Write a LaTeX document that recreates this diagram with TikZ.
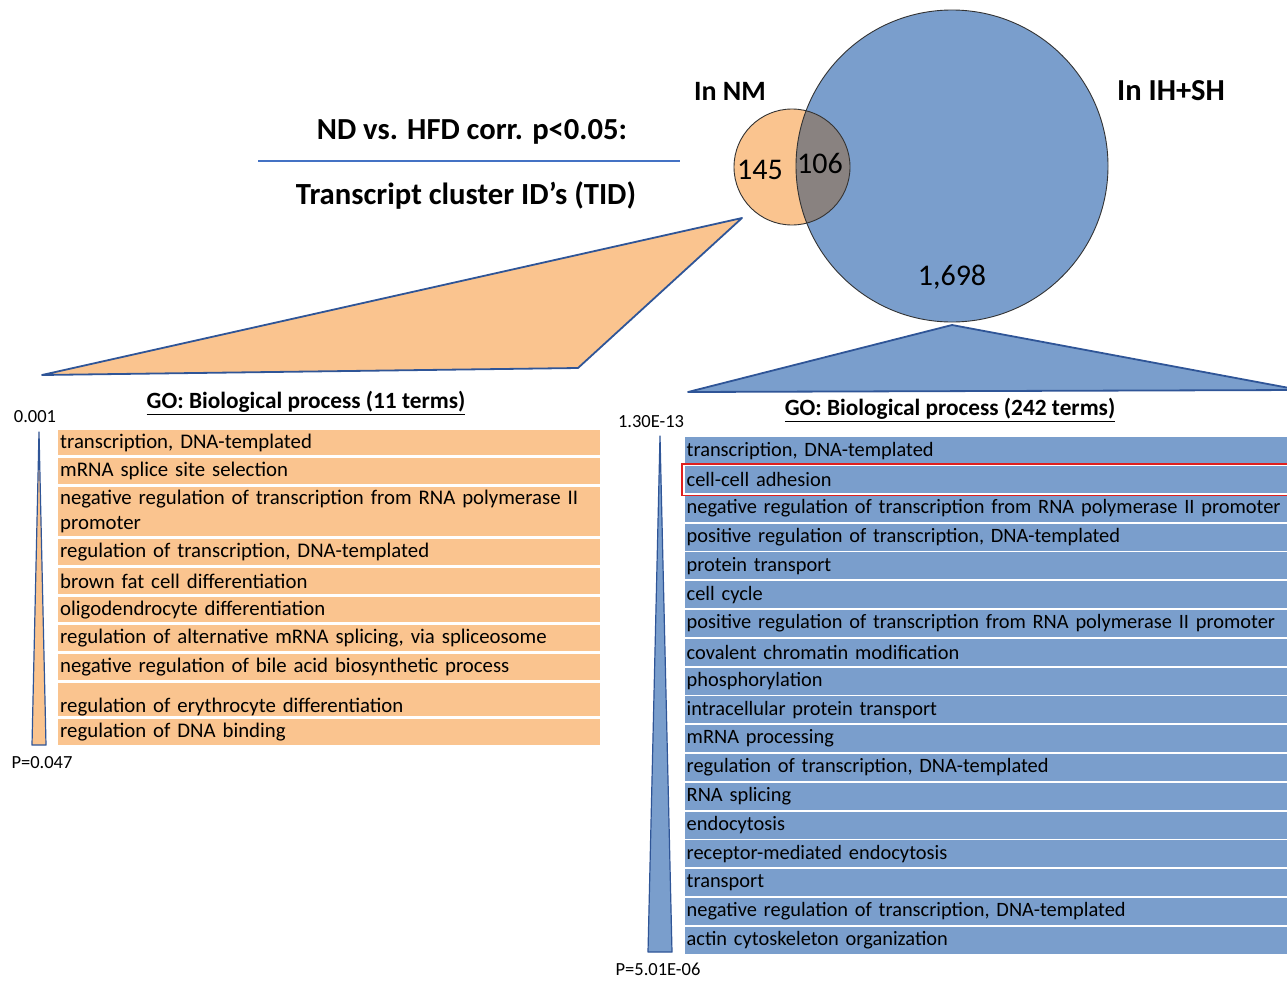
\documentclass[tikz,border=0pt]{standalone}
\usepackage{fontspec}
\setmainfont{Carlito}
\definecolor{orangeF}{HTML}{FAC48F}
\definecolor{blueF}{HTML}{7A9ECC}
\definecolor{blueL}{HTML}{2F5597}
\definecolor{blueT}{HTML}{4472C4}
\definecolor{grayI}{HTML}{898280}
\definecolor{redB}{HTML}{E0201E}
\newcommand\listfont{\fontsize{20.8}{25}\selectfont\spaceskip=3.4pt plus 1pt minus 0.5pt\relax}
\newcommand\rlistfont{\fontsize{20.4}{25}\selectfont\spaceskip=3.4pt plus 1pt minus 0.5pt\relax}
\tikzset{
  orow/.style={fill=orangeF, anchor=north west, text width=538pt, inner xsep=2pt, inner ysep=0pt,
    align=left, font=\listfont, minimum height=26pt},
  brow/.style={fill=blueF, anchor=north west, text width=599pt, inner xsep=1.5pt, inner ysep=0pt,
    align=left, font=\rlistfont, minimum height=27pt},
  small/.style={font=\fontsize{18.5}{22}\selectfont, inner sep=0pt},
  hdr/.style={font=\bfseries\fontsize{23.3}{27}\selectfont, inner sep=0pt},
  big/.style={font=\bfseries\fontsize{30.6}{34}\selectfont, inner sep=0pt},
  num/.style={font=\fontsize{30}{34}\selectfont, inner sep=0pt},
  tri/.style={draw=blueL, line width=1.8pt, line join=round},
  wedge/.style={draw=blueL, line width=1.2pt, line join=round},
  venn/.style={draw=black!80, line width=0.9pt},
}
\begin{document}
\hyphenpenalty=10000
\exhyphenpenalty=10000
\begin{tikzpicture}[x=1pt,y=-1pt]
\useasboundingbox (0,0) rectangle (1287,980);
% Venn
\fill[blueF] (952,166) circle (156);
\fill[orangeF] (792,167) circle (58);
\begin{scope}
  \clip (792,167) circle (58);
  \fill[grayI] (952,166) circle (156);
\end{scope}
\draw[venn] (952,166) circle (156);
\draw[venn] (792,167) circle (58);
\node[num] (n145) at (760,170) {145};
\node[num] (n106) at (820,163) {106};
\node[num] (n1698) at (952,277) {1,698};
\node[big, font=\bfseries\fontsize{28}{32}\selectfont] (innm) at (730,91) {In NM};
\node[big, font=\bfseries\fontsize{30.5}{34}\selectfont] (inih) at (1171,91) {In IH+SH};
% Title
\node[big] (t1) at (472,132) {ND vs. HFD corr. p<0.05:};
\coordinate (la) at (258,161);
\coordinate (lb) at (680,161);
\draw[blueT, line width=2.5pt] (la) -- (lb);
\node[big, font=\bfseries\fontsize{30.7}{35}\selectfont] (t2) at (466,196) {Transcript cluster ID’s (TID)};
% funnels
\fill[orangeF] (42,375) -- (578,368) -- (742,218) -- cycle;
\draw[tri] (42,375) -- (578,368) -- (742,218) -- cycle;
\fill[blueF] (688,392) -- (952,325) -- (1300,390) -- cycle;
\draw[tri] (688,392) -- (952,325) -- (1300,390) -- cycle;
% left list
\node[hdr] (lh) at (306,403) {\underline{GO: Biological process (11 terms)}};
\node[small] (l0) at (35,417) {0.001};
\node[small] (lp) at (42,763) {P=0.047};
\fill[orangeF] (39,432) -- (46,745) -- (32,745) -- cycle;
\draw[wedge] (39,432) -- (46,745) -- (32,745) -- cycle;
\node[orow, minimum height=25pt] (a1) at (58,430) {transcription, DNA-templated};
\node[orow] (a2) at (58,458) {mRNA splice site selection};
\node[orow, minimum height=49pt] (a3) at (58,487) {negative regulation of transcription from RNA polymerase II\\promoter};
\node[orow] (a4) at (58,539) {regulation of transcription, DNA-templated};
\node[orow] (a5) at (58,568) {brown fat cell differentiation};
\node[orow, minimum height=25pt] (a6) at (58,597) {oligodendrocyte differentiation};
\node[orow] (a7) at (58,625) {regulation of alternative mRNA splicing, via spliceosome};
\node[orow] (a8) at (58,654) {negative regulation of bile acid biosynthetic process};
\node[orow, minimum height=33pt, text depth=0pt, text height=26pt] (a9) at (58,683) {regulation of erythrocyte differentiation};
\node[orow] (a10) at (58,719) {regulation of DNA binding};
% right list
\node[hdr] (rh) at (950,410) {\underline{GO: Biological process (242 terms)}};
\node[small] (r0) at (651,422) {1.30E-13};
\node[small] (rp) at (658,969) {P=5.01E-06};
\fill[blueF] (660,436) -- (672,952) -- (648,952) -- cycle;
\draw[wedge] (660,436) -- (672,952) -- (648,952) -- cycle;
\foreach \i/\t in {0/{transcription, DNA-templated},
  1/{cell-cell adhesion},
  2/{negative regulation of transcription from RNA polymerase II promoter},
  3/{positive regulation of transcription, DNA-templated},
  4/{protein transport},
  5/{cell cycle},
  6/{positive regulation of transcription from RNA polymerase II promoter},
  7/{covalent chromatin modification},
  8/{phosphorylation},
  9/{intracellular protein transport},
  10/{mRNA processing},
  11/{regulation of transcription, DNA-templated},
  12/{RNA splicing},
  13/{endocytosis},
  14/{receptor-mediated endocytosis},
  15/{transport},
  16/{negative regulation of transcription, DNA-templated},
  17/{actin cytoskeleton organization}}
  {\node[brow] (b\i) at (685,{437+28.8*\i}) {\mbox{\t}};}
\draw[redB, line width=1.4pt] ([xshift=-3pt,yshift=2pt]b1.north west) rectangle ([xshift=6pt,yshift=-2pt]b1.south east);
\end{tikzpicture}
\end{document}
